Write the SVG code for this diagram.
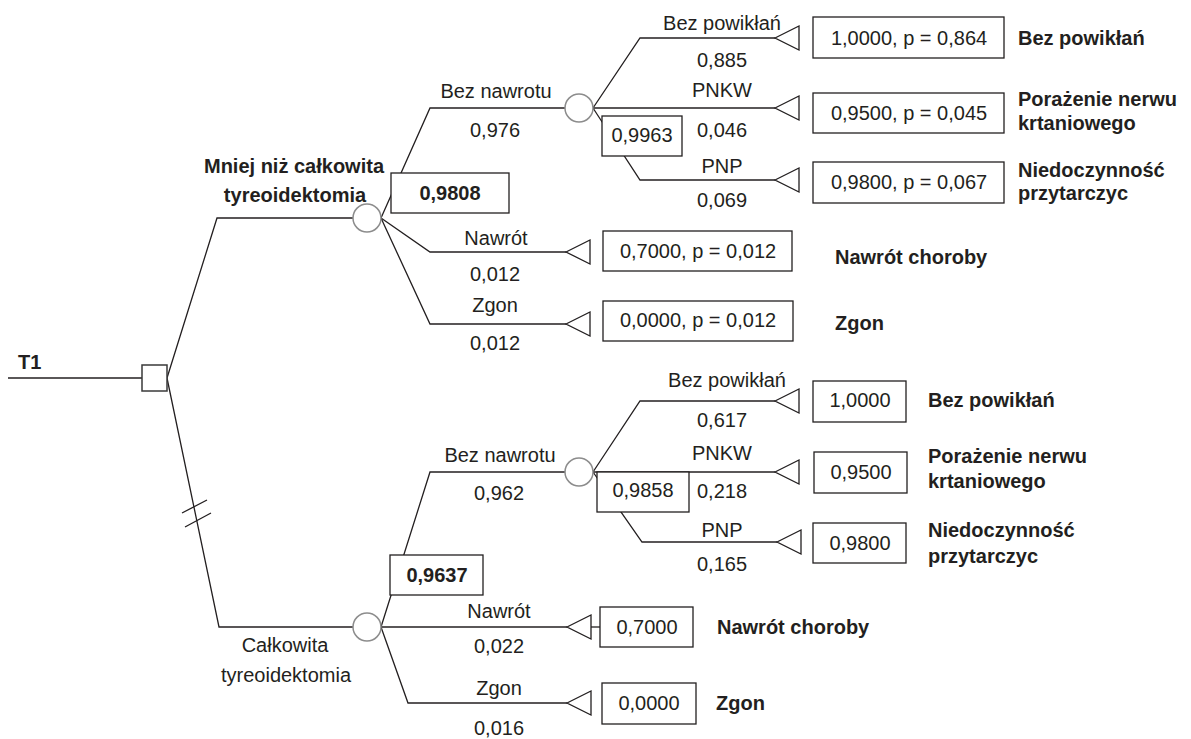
<svg xmlns="http://www.w3.org/2000/svg" width="1191" height="739" viewBox="0 0 1191 739">
<style>
.ln{fill:none;stroke:#231f20;stroke-width:1.3}
.tri{fill:#fff;stroke:#231f20;stroke-width:1.3}
.box{fill:#fff;stroke:#231f20;stroke-width:1.3}
.chance{fill:#fff;stroke:#8c8c8c;stroke-width:1.5}
.dec{fill:#fff;stroke:#3a3a3a;stroke-width:1.5}
text{font-family:"Liberation Sans",Arial,sans-serif;font-size:20px;fill:#231f20}
.b{font-weight:bold}
.m{text-anchor:middle}
</style>
<defs>
<polygon id="term" class="tri" points="0,0 24,-12 24,12"/>
</defs>
<rect width="1191" height="739" fill="#fff"/>
<g id="connectors">
<path class="ln" d="M8,378H142"/>
<path class="ln" d="M167,378L217,218H353"/>
<path class="ln" d="M167,378L219,627H353"/>
<path class="ln" d="M182,513L207,500M185,527L211,513"/>
<path class="ln" d="M381,218L430,108H565"/>
<path class="ln" d="M381,218L430,252H566"/>
<path class="ln" d="M381,218L430,324H566"/>
<path class="ln" d="M593,108L640,38H775"/>
<path class="ln" d="M593,108H775"/>
<path class="ln" d="M593,108L640,180H775"/>
<path class="ln" d="M381,627L430,472H565"/>
<path class="ln" d="M381,627H567"/>
<path class="ln" d="M589,627H600"/>
<path class="ln" d="M381,627L408,703H567"/>
<path class="ln" d="M593,472L640,401H775"/>
<path class="ln" d="M593,472H775"/>
<path class="ln" d="M593,472L642,542H777"/>
</g>
<g id="start"><text x="18" y="369" class="b">T1</text></g>
<g id="decision"><rect class="dec" x="142" y="365" width="25" height="26"/></g>
<g id="c-mniej">
<circle class="chance" cx="367" cy="218" r="14"/>
<text x="294" y="173" class="b m">Mniej niż całkowita</text>
<text x="295" y="202" class="b m">tyreoidektomia</text>
<rect class="box" x="391" y="173" width="118" height="40"/>
<text x="450" y="200" class="b m">0,9808</text>
</g>
<g id="c-mniej-beznawrotu">
<text x="496" y="98" class="m">Bez nawrotu</text>
<text x="495" y="137" class="m">0,976</text>
<circle class="chance" cx="579" cy="108" r="14"/>
<rect class="box" x="602" y="116" width="80" height="40"/>
<text x="642" y="142" class="m">0,9963</text>
</g>
<g id="t-mniej-bezpow">
<text x="722" y="30" class="m">Bez powikłań</text>
<text x="722" y="67" class="m">0,885</text>
<use href="#term" x="775" y="38"/>
<rect class="box" x="813" y="17" width="191" height="41"/>
<text x="909" y="45" class="m">1,0000, p = 0,864</text>
<text x="1018" y="45" class="b">Bez powikłań</text>
</g>
<g id="t-mniej-pnkw">
<text x="722" y="97" class="m">PNKW</text>
<text x="722" y="137" class="m">0,046</text>
<use href="#term" x="775" y="108"/>
<rect class="box" x="813" y="93" width="191" height="40"/>
<text x="909" y="120" class="m">0,9500, p = 0,045</text>
<text x="1018" y="106" class="b">Porażenie nerwu</text>
<text x="1018" y="130" class="b">krtaniowego</text>
</g>
<g id="t-mniej-pnp">
<text x="722" y="173" class="m">PNP</text>
<text x="722" y="207" class="m">0,069</text>
<use href="#term" x="775" y="180"/>
<rect class="box" x="813" y="162" width="191" height="41"/>
<text x="909" y="189" class="m">0,9800, p = 0,067</text>
<text x="1018" y="177" class="b">Niedoczynność</text>
<text x="1018" y="200" class="b">przytarczyc</text>
</g>
<g id="t-mniej-nawrot">
<text x="496" y="245" class="m">Nawrót</text>
<text x="495" y="281" class="m">0,012</text>
<use href="#term" x="566" y="252"/>
<rect class="box" x="603" y="231" width="189" height="40"/>
<text x="698" y="258" class="m">0,7000, p = 0,012</text>
<text x="835" y="264" class="b">Nawrót choroby</text>
</g>
<g id="t-mniej-zgon">
<text x="495" y="312" class="m">Zgon</text>
<text x="495" y="350" class="m">0,012</text>
<use href="#term" x="566" y="324"/>
<rect class="box" x="603" y="301" width="190" height="40"/>
<text x="698" y="327" class="m">0,0000, p = 0,012</text>
<text x="835" y="330" class="b">Zgon</text>
</g>
<g id="c-calk">
<circle class="chance" cx="367" cy="627" r="14"/>
<text x="285" y="652" class="m">Całkowita</text>
<text x="286" y="682" class="m">tyreoidektomia</text>
<rect class="box" x="390" y="555" width="93" height="40"/>
<text x="437" y="582" class="b m">0,9637</text>
</g>
<g id="c-calk-beznawrotu">
<text x="500" y="462" class="m">Bez nawrotu</text>
<text x="499" y="500" class="m">0,962</text>
<circle class="chance" cx="579" cy="472" r="14"/>
<rect class="box" x="597" y="472" width="92" height="40"/>
<text x="643" y="497" class="m">0,9858</text>
</g>
<g id="t-calk-bezpow">
<text x="727" y="387" class="m">Bez powikłań</text>
<text x="722" y="427" class="m">0,617</text>
<use href="#term" x="775" y="401"/>
<rect class="box" x="813" y="381" width="93" height="41"/>
<text x="860" y="407" class="m">1,0000</text>
<text x="928" y="407" class="b">Bez powikłań</text>
</g>
<g id="t-calk-pnkw">
<text x="722" y="460" class="m">PNKW</text>
<text x="722" y="498" class="m">0,218</text>
<use href="#term" x="775" y="472"/>
<rect class="box" x="814" y="452" width="93" height="41"/>
<text x="861" y="479" class="m">0,9500</text>
<text x="928" y="463" class="b">Porażenie nerwu</text>
<text x="928" y="488" class="b">krtaniowego</text>
</g>
<g id="t-calk-pnp">
<text x="722" y="537" class="m">PNP</text>
<text x="722" y="571" class="m">0,165</text>
<use href="#term" x="777" y="542"/>
<rect class="box" x="813" y="523" width="93" height="40"/>
<text x="860" y="550" class="m">0,9800</text>
<text x="928" y="537" class="b">Niedoczynność</text>
<text x="928" y="563" class="b">przytarczyc</text>
</g>
<g id="t-calk-nawrot">
<text x="499" y="618" class="m">Nawrót</text>
<text x="499" y="653" class="m">0,022</text>
<use href="#term" x="567" y="627"/>
<rect class="box" x="600" y="607" width="93" height="40"/>
<text x="647" y="634" class="m">0,7000</text>
<text x="717" y="634" class="b">Nawrót choroby</text>
</g>
<g id="t-calk-zgon">
<text x="499" y="695" class="m">Zgon</text>
<text x="499" y="735" class="m">0,016</text>
<use href="#term" x="567" y="703"/>
<rect class="box" x="602" y="683" width="94" height="41"/>
<text x="649" y="710" class="m">0,0000</text>
<text x="716" y="710" class="b">Zgon</text>
</g>
</svg>
